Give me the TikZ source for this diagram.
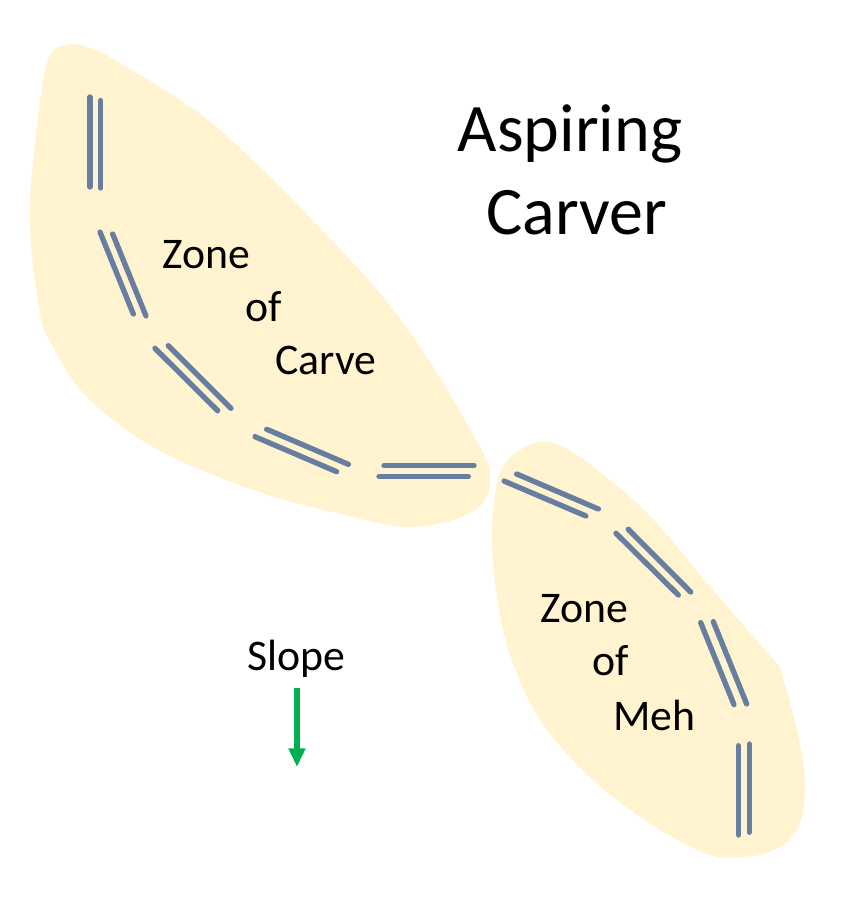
\documentclass[tikz,border=0pt]{standalone}
\usepackage{fontspec}
\setmainfont{Carlito}
\usetikzlibrary{arrows.meta}
\definecolor{zonefill}{RGB}{255,243,208}
\definecolor{skiblue}{RGB}{104,126,160}
\definecolor{slopegreen}{HTML}{00B050}
\begin{document}
\begin{tikzpicture}[x=0.75pt,y=-0.75pt,
  zone/.style={fill=zonefill,draw=none},
  ski/.style={draw=skiblue,line width=4pt,line cap=round},
  lbl/.style={font=\fontsize{32.8pt}{39pt}\selectfont,anchor=base west,inner sep=0pt},
  title/.style={font=\fontsize{51pt}{62pt}\selectfont,anchor=base,inner sep=0pt}]
\useasboundingbox (0,0) rectangle (854,905);
% zones
\fill[zone] plot[smooth cycle,tension=0.6] coordinates {
  (67,45) (47,63) (33,163) (30,230) (40,313) (53,347) (87,397) (153,447)
  (253,490) (353,517) (407,527) (453,520) (483,503) (490,477) (480,447)
  (420,347) (353,263) (220,130) (120,63) (87,47)};
\fill[zone] plot[smooth,tension=0.6] coordinates {
  (780,667) (797,730) (805,780) (800,823) (780,847) (743,857) (697,850)
  (613,797) (547,730) (513,663) (497,597) (492,530) (500,473) (520,450)
  (547,442) (580,457) (647,513) (713,590) (780,667)} -- cycle;
% ski tracks
\draw[ski] (90,97) -- (90,187);   \draw[ski] (100.7,100.5) -- (100.7,188);
\draw[ski] (100,232) -- (133.3,314); \draw[ski] (112.7,234) -- (146,316);
\draw[ski] (155,348.3) -- (217.7,410.7); \draw[ski] (168.3,345.7) -- (231,408.3);
\draw[ski] (255,436.7) -- (336.7,471.7); \draw[ski] (266.7,429.3) -- (348.3,464.3);
\draw[ski] (384,465.7) -- (474,465.7); \draw[ski] (379,476.7) -- (468.3,476.7);
\draw[ski] (516.7,474) -- (598.3,509); \draw[ski] (504,481) -- (586,516);
\draw[ski] (628.3,529.3) -- (690.7,592); \draw[ski] (616,533.3) -- (678.3,595);
\draw[ski] (713.3,621.7) -- (746.7,704); \draw[ski] (700.7,622.7) -- (734,704.7);
\draw[ski] (749.3,744) -- (749.3,832.3); \draw[ski] (738.7,745.7) -- (738.7,835);
% texts
\node[title] (asp) at (570,152) {Aspiring};
\node[title] (carver) at (577,235) {Carver};
\node[lbl] (z1) at (162,268) {Zone};
\node[lbl] (o1) at (245,321) {of};
\node[lbl] (c1) at (275,374) {Carve};
\node[lbl] (z2) at (540,622) {Zone};
\node[lbl] (o2) at (592,675) {of};
\node[lbl] (m2) at (613,730) {Meh};
\node[lbl] (slope) at (247,670) {Slope};
\coordinate (aS) at (297,688);
\coordinate (aE) at (297,767);
\draw[slopegreen,line width=3.9pt,-{Triangle[length=14pt,width=12pt]}] (aS) -- (aE);
\end{tikzpicture}
\end{document}
